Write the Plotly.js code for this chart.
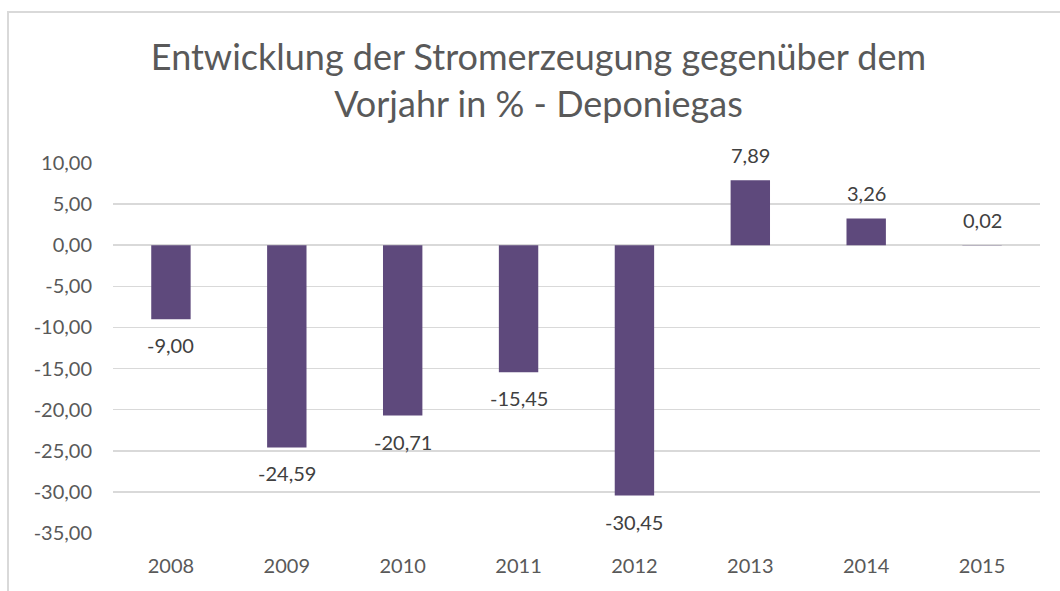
<!DOCTYPE html>
<html>
<head>
<meta charset="utf-8">
<script src="https://cdn.plot.ly/plotly-3.0.1.min.js"></script>
<style>
html,body{margin:0;padding:0;background:#fff;}
#frame{position:absolute;left:7px;top:11px;width:1060px;height:600px;border-left:2px solid #d9d9d9;border-top:2px solid #d9d9d9;}
#chart{position:absolute;left:0;top:0;width:1060px;height:591px;}
</style>
</head>
<body>
<div id="frame"></div>
<div id="chart"></div>
<script>
const years = ['2008','2009','2010','2011','2012','2013','2014','2015'];
const changes = [-9.00, -24.59, -20.71, -15.45, -30.45, 7.89, 3.26, 0.02];
const yTicks = [10, 5, 0, -5, -10, -15, -20, -25, -30, -35];
const titleText = 'Entwicklung der Stromerzeugung gegenüber dem<br>Vorjahr in % - Deponiegas';

const font = 'Lato, "Open Sans", sans-serif';
const fmt = v => v.toFixed(2).replace('.', ',');

const labels = years.map((yr, i) => ({
  x: i,
  y: changes[i],
  xref: 'x', yref: 'y',
  text: fmt(changes[i]),
  showarrow: false,
  yanchor: changes[i] < 0 ? 'top' : 'bottom',
  yshift: changes[i] < 0 ? -12 : 11,
  font: {family: font, size: 20, color: '#404040'}
}));

Plotly.newPlot('chart', [{
  type: 'bar',
  x: years,
  y: changes,
  marker: {color: '#5e497c'},
  hoverinfo: 'none'
}], {
  width: 1060,
  height: 591,
  paper_bgcolor: 'rgba(0,0,0,0)',
  plot_bgcolor: 'rgba(0,0,0,0)',
  separators: ',.',
  bargap: 0.66,
  showlegend: false,
  margin: {l: 113, r: 20, t: 163, b: 58},
  title: {
    text: titleText,
    font: {family: font, size: 36, color: '#595959'},
    x: 0.508, xanchor: 'center',
    y: 0.882, yanchor: 'top'
  },
  annotations: labels,
  xaxis: {
    type: 'category',
    range: [-0.5, years.length - 0.5],
    showgrid: false,
    showline: false,
    ticks: '',
    ticklabelstandoff: 19,
    tickfont: {family: font, size: 20, color: '#595959'}
  },
  yaxis: {
    range: [-35, 10],
    tickvals: yTicks,
    ticktext: yTicks.map(fmt),
    showgrid: true,
    gridcolor: '#d9d9d9',
    gridwidth: 1.5,
    zeroline: false,
    showline: false,
    ticks: '',
    ticklabelstandoff: 20,
    tickfont: {family: font, size: 20, color: '#595959'}
  }
}, {staticPlot: true});
</script>
</body>
</html>
